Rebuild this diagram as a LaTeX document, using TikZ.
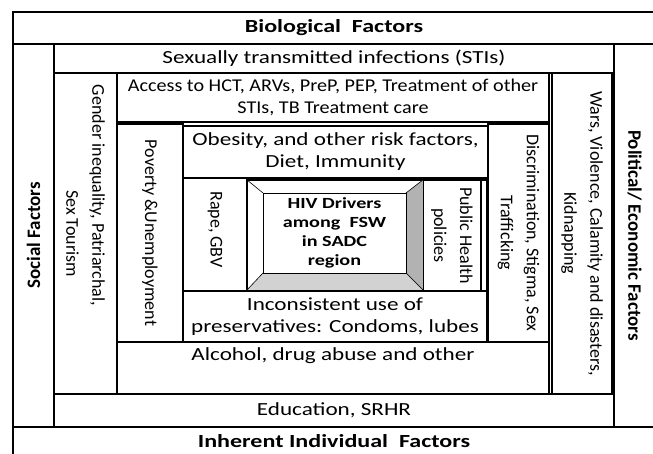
\documentclass[tikz,border=0pt]{standalone}
\usepackage{fontspec}
\setmainfont{Carlito}
\newfontfamily\bodywide{Carlito}[FakeStretch=1.25]
\newfontfamily\bodynarrow{Carlito}[FakeStretch=1.12]
\newfontfamily\headwide{Carlito}[FakeStretch=1.3]
\usetikzlibrary{positioning,calc}

\begin{document}
\begin{tikzpicture}[
  x=1pt, y=-1pt,
  cell/.style={
    draw=black,
    line width=1.1pt,
    fill=white,
    inner sep=0pt,
    align=center,
    font=\bodywide\fontsize{18.5}{22}\selectfont
  },
  heading/.style={cell, font=\headwide\fontsize{18.5}{22}\selectfont\bfseries},
  upcell/.style={cell, rotate=-90, font=\fontsize{18}{26}\selectfont},
  upheading/.style={cell, font=\fontsize{19}{26}\selectfont\bfseries}
]

\useasboundingbox (0,0) rectangle (653,454);
\clip (0,0) rectangle (653,454);
\fill[white] (0,0) rectangle (653,454);

% -------- Outer ring --------
\node[heading, minimum width=642, minimum height=32] (bio) at (334,28) {Biological\ \ Factors};
\node[upheading, rotate=90, minimum width=383, minimum height=41] (social) at (33.5,235.5) {Social Factors};
\node[upheading, rotate=-90, minimum width=383, minimum height=41] (polit) at (634.5,235.5) {Political/\ Economic Factors};
\node[heading, minimum width=642, minimum height=29] (inherent) at (334,441.5) {Inherent Individual\ \ Factors};

% -------- Second ring --------
\node[cell, minimum width=560, minimum height=29] (sti) at (334,58.5) {Sexually transmitted infections (STIs)};
\node[upcell, minimum width=321, minimum height=63] (gender) at (85.5,233.5)
{Gender inequality, Patriarchal,\hspace*{76pt}\\Sex Tourism};
\node[upcell, minimum width=321, minimum height=60] (wars) at (582,233.5)
{Wars, Violence, Calamity and disasters,\\Kidnapping};
\node[cell, minimum width=560, minimum height=33] (educ) at (334,410.5) {Education, SRHR};
\draw[line width=1.1pt] (sti.south east) -- (educ.north east);

% -------- Third ring --------
\node[cell, minimum width=432, minimum height=49, font=\bodynarrow\fontsize{18}{22}\selectfont] (access) at (333,97.5)
{Access to HCT, ARVs, PreP, PEP, Treatment of other\\STIs, TB Treatment care};
\node[upcell, minimum width=218, minimum height=66] (poverty) at (150,233) {Poverty \&Unemployment};
\node[upcell, minimum width=218, minimum height=61] (discrim) at (518.5,233)
{Discrimination, Stigma, Sex\\Trafficking};
\node[cell, minimum width=432, minimum height=52] (alcohol) at (333,368)
{Alcohol, drug abuse and other\\\strut};

% -------- Inner ring --------
\node[cell, minimum width=305, minimum height=52] (obesity) at (335.5,152)
{Obesity, and other risk factors,\\Diet, Immunity};
\node[upcell, minimum width=113, minimum height=64] (rape) at (215,234.5) {Rape, GBV\hspace*{10pt}};
\node[upcell, minimum width=111, minimum height=58] (public) at (452,235.5) {Public Health\\policies};
\node[cell, minimum width=6, minimum height=111] (strip) at (484,235.5) {};
\node[cell, minimum width=304, minimum height=51] (incons) at (335,316.5)
{Inconsistent use of\\preservatives: Condoms, lubes};

% -------- Centre: HIV drivers --------
\node[cell, minimum width=176, minimum height=110] (hivframe) at (335,235) {};
\filldraw[fill=gray!60, line width=0.6pt] (hivframe.north east) -- (406,193) -- (406,273) -- (hivframe.south east) -- cycle;
\filldraw[fill=gray!35, line width=0.6pt] (hivframe.south west) -- (263,273) -- (406,273) -- (hivframe.south east) -- cycle;
\draw[line width=0.6pt] (hivframe.north west) -- (263,193);
\node[draw, line width=0.8pt, fill=white, minimum width=143, minimum height=80, align=center,
  font=\headwide\fontsize{15.5}{19}\selectfont\bfseries] (hiv) at (334.5,233)
{HIV Drivers\\among\ \ FSW\\in SADC\\region};
\draw[line width=1.6pt] (hivframe.north west) rectangle (hivframe.south east);

\end{tikzpicture}
\end{document}
